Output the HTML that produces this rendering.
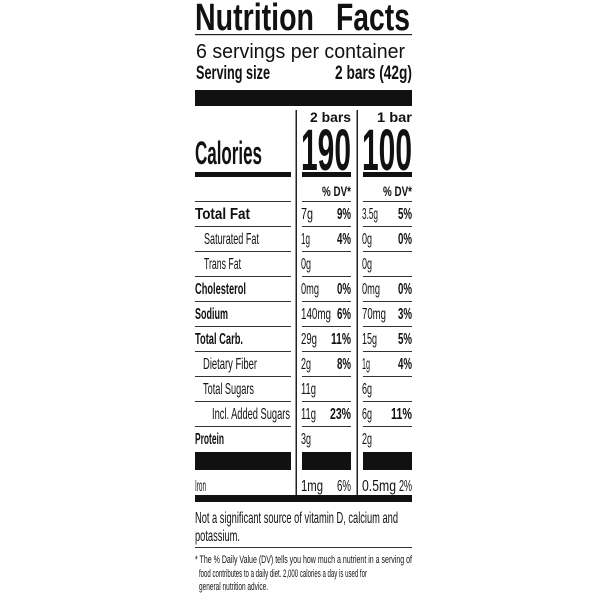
<!DOCTYPE html>
<html><head><meta charset="utf-8"><style>html,body{margin:0;padding:0;background:#fff}svg{display:block}text{font-family:"Liberation Sans",sans-serif;fill:#111}.b{font-weight:bold}</style></head><body>
<svg width="600" height="600" viewBox="0 0 600 600" xmlns="http://www.w3.org/2000/svg">
<g lengthAdjust="spacingAndGlyphs">
<text class="b" x="195" y="30" font-size="38" textLength="119" lengthAdjust="spacingAndGlyphs">Nutrition</text>
<text class="b" x="336" y="30" font-size="38" textLength="74" lengthAdjust="spacingAndGlyphs">Facts</text>
<rect x="195" y="34" width="217" height="1.2" fill="#222"/>
<text x="196" y="58" font-size="20" textLength="209" lengthAdjust="spacingAndGlyphs">6 servings per container</text>
<text class="b" x="196" y="79" font-size="19" textLength="74" lengthAdjust="spacingAndGlyphs">Serving size</text>
<text class="b" x="335" y="79" font-size="19" textLength="77" lengthAdjust="spacingAndGlyphs">2 bars (42g)</text>
<rect x="195" y="90" width="217" height="16" fill="#111"/>
<rect x="295.5" y="110" width="1.5" height="387" fill="#222"/>
<rect x="356.5" y="110" width="1.5" height="387" fill="#222"/>
<text class="b" x="310" y="122" font-size="14" textLength="41" lengthAdjust="spacingAndGlyphs">2 bars</text>
<text class="b" x="377" y="122" font-size="14" textLength="35" lengthAdjust="spacingAndGlyphs">1 bar</text>
<text class="b" x="195" y="164" font-size="32" textLength="67" lengthAdjust="spacingAndGlyphs">Calories</text>
<text class="b" x="301" y="170" font-size="58" textLength="50" lengthAdjust="spacingAndGlyphs">190</text>
<text class="b" x="362" y="170" font-size="58" textLength="50" lengthAdjust="spacingAndGlyphs">100</text>
<rect x="195" y="172" width="96" height="5" fill="#111"/>
<rect x="302" y="172" width="49" height="5" fill="#111"/>
<rect x="363" y="172" width="49" height="5" fill="#111"/>
<text class="b" x="322" y="196" font-size="14" textLength="29" lengthAdjust="spacingAndGlyphs">% DV*</text>
<text class="b" x="383" y="196" font-size="14" textLength="29" lengthAdjust="spacingAndGlyphs">% DV*</text>
<g fill="#333">
<rect x="195" y="201" width="96" height="1"/><rect x="302" y="201" width="49" height="1"/><rect x="363" y="201" width="49" height="1"/>
<rect x="195" y="226" width="96" height="1"/><rect x="302" y="226" width="49" height="1"/><rect x="363" y="226" width="49" height="1"/>
<rect x="195" y="251" width="96" height="1"/><rect x="302" y="251" width="49" height="1"/><rect x="363" y="251" width="49" height="1"/>
<rect x="195" y="276" width="96" height="1"/><rect x="302" y="276" width="49" height="1"/><rect x="363" y="276" width="49" height="1"/>
<rect x="195" y="301" width="96" height="1"/><rect x="302" y="301" width="49" height="1"/><rect x="363" y="301" width="49" height="1"/>
<rect x="195" y="326" width="96" height="1"/><rect x="302" y="326" width="49" height="1"/><rect x="363" y="326" width="49" height="1"/>
<rect x="195" y="351" width="96" height="1"/><rect x="302" y="351" width="49" height="1"/><rect x="363" y="351" width="49" height="1"/>
<rect x="195" y="376" width="96" height="1"/><rect x="302" y="376" width="49" height="1"/><rect x="363" y="376" width="49" height="1"/>
<rect x="195" y="401" width="96" height="1"/><rect x="302" y="401" width="49" height="1"/><rect x="363" y="401" width="49" height="1"/>
<rect x="195" y="426" width="96" height="1"/><rect x="302" y="426" width="49" height="1"/><rect x="363" y="426" width="49" height="1"/>
</g>
<!-- rows -->
<g font-size="16">
<text class="b" x="195" y="219" textLength="55" lengthAdjust="spacingAndGlyphs">Total Fat</text>
<text x="301" y="219" textLength="12" lengthAdjust="spacingAndGlyphs">7g</text>
<text class="b" x="337" y="219" textLength="14" lengthAdjust="spacingAndGlyphs">9%</text>
<text x="362" y="219" textLength="16" lengthAdjust="spacingAndGlyphs">3.5g</text>
<text class="b" x="398" y="219" textLength="14" lengthAdjust="spacingAndGlyphs">5%</text>

<text x="204" y="244" textLength="55" lengthAdjust="spacingAndGlyphs">Saturated Fat</text>
<text x="301" y="244" textLength="9" lengthAdjust="spacingAndGlyphs">1g</text>
<text class="b" x="337" y="244" textLength="14" lengthAdjust="spacingAndGlyphs">4%</text>
<text x="362" y="244" textLength="10" lengthAdjust="spacingAndGlyphs">0g</text>
<text class="b" x="398" y="244" textLength="14" lengthAdjust="spacingAndGlyphs">0%</text>

<text x="204" y="269" textLength="37" lengthAdjust="spacingAndGlyphs">Trans Fat</text>
<text x="301" y="269" textLength="10" lengthAdjust="spacingAndGlyphs">0g</text>
<text x="362" y="269" textLength="10" lengthAdjust="spacingAndGlyphs">0g</text>

<text class="b" x="195" y="294" textLength="51" lengthAdjust="spacingAndGlyphs">Cholesterol</text>
<text x="301" y="294" textLength="18" lengthAdjust="spacingAndGlyphs">0mg</text>
<text class="b" x="337" y="294" textLength="14" lengthAdjust="spacingAndGlyphs">0%</text>
<text x="362" y="294" textLength="18" lengthAdjust="spacingAndGlyphs">0mg</text>
<text class="b" x="398" y="294" textLength="14" lengthAdjust="spacingAndGlyphs">0%</text>

<text class="b" x="195" y="319" textLength="33" lengthAdjust="spacingAndGlyphs">Sodium</text>
<text x="301" y="319" textLength="30" lengthAdjust="spacingAndGlyphs">140mg</text>
<text class="b" x="337" y="319" textLength="14" lengthAdjust="spacingAndGlyphs">6%</text>
<text x="362" y="319" textLength="24" lengthAdjust="spacingAndGlyphs">70mg</text>
<text class="b" x="398" y="319" textLength="14" lengthAdjust="spacingAndGlyphs">3%</text>

<text class="b" x="195" y="344" textLength="48" lengthAdjust="spacingAndGlyphs">Total Carb.</text>
<text x="301" y="344" textLength="16" lengthAdjust="spacingAndGlyphs">29g</text>
<text class="b" x="331" y="344" textLength="20" lengthAdjust="spacingAndGlyphs">11%</text>
<text x="362" y="344" textLength="15" lengthAdjust="spacingAndGlyphs">15g</text>
<text class="b" x="398" y="344" textLength="14" lengthAdjust="spacingAndGlyphs">5%</text>

<text x="203" y="369" textLength="54" lengthAdjust="spacingAndGlyphs">Dietary Fiber</text>
<text x="301" y="369" textLength="10" lengthAdjust="spacingAndGlyphs">2g</text>
<text class="b" x="337" y="369" textLength="14" lengthAdjust="spacingAndGlyphs">8%</text>
<text x="362" y="369" textLength="8" lengthAdjust="spacingAndGlyphs">1g</text>
<text class="b" x="398" y="369" textLength="14" lengthAdjust="spacingAndGlyphs">4%</text>

<text x="203" y="394" textLength="51" lengthAdjust="spacingAndGlyphs">Total Sugars</text>
<text x="301" y="394" textLength="15" lengthAdjust="spacingAndGlyphs">11g</text>
<text x="362" y="394" textLength="10" lengthAdjust="spacingAndGlyphs">6g</text>

<text x="212" y="419" textLength="78" lengthAdjust="spacingAndGlyphs">Incl. Added Sugars</text>
<text x="301" y="419" textLength="15" lengthAdjust="spacingAndGlyphs">11g</text>
<text class="b" x="330" y="419" textLength="21" lengthAdjust="spacingAndGlyphs">23%</text>
<text x="362" y="419" textLength="10" lengthAdjust="spacingAndGlyphs">6g</text>
<text class="b" x="391" y="419" textLength="21" lengthAdjust="spacingAndGlyphs">11%</text>

<text class="b" x="195" y="444" textLength="29" lengthAdjust="spacingAndGlyphs">Protein</text>
<text x="301" y="444" textLength="10" lengthAdjust="spacingAndGlyphs">3g</text>
<text x="362" y="444" textLength="10" lengthAdjust="spacingAndGlyphs">2g</text>
</g>
<rect x="195" y="452" width="96" height="18" fill="#111"/>
<rect x="302" y="452" width="49" height="18" fill="#111"/>
<rect x="363" y="452" width="49" height="18" fill="#111"/>
<g font-size="16">
<text x="195" y="491" textLength="11" lengthAdjust="spacingAndGlyphs">Iron</text>
<text x="301" y="491" textLength="22" lengthAdjust="spacingAndGlyphs">1mg</text>
<text x="337" y="491" textLength="14" lengthAdjust="spacingAndGlyphs">6%</text>
<text x="362" y="491" textLength="34" lengthAdjust="spacingAndGlyphs">0.5mg</text>
<text x="399" y="491" textLength="13" lengthAdjust="spacingAndGlyphs">2%</text>
</g>
<rect x="195" y="495" width="217" height="7" fill="#111"/>
<text x="195" y="523" font-size="16" textLength="203" lengthAdjust="spacingAndGlyphs">Not a significant source of vitamin D, calcium and</text>
<text x="195" y="541" font-size="16" textLength="45" lengthAdjust="spacingAndGlyphs">potassium.</text>
<rect x="195" y="547" width="217" height="1" fill="#333"/>
<g font-size="11">
<text x="195" y="563" textLength="217" lengthAdjust="spacingAndGlyphs">* The % Daily Value (DV) tells you how much a nutrient in a serving of</text>
<text x="199" y="577" textLength="168" lengthAdjust="spacingAndGlyphs">food contributes to a daily diet. 2,000 calories a day is used for</text>
<text x="199" y="590" textLength="69" lengthAdjust="spacingAndGlyphs">general nutrition advice.</text>
</g>
</g>
</svg>
</body></html>
